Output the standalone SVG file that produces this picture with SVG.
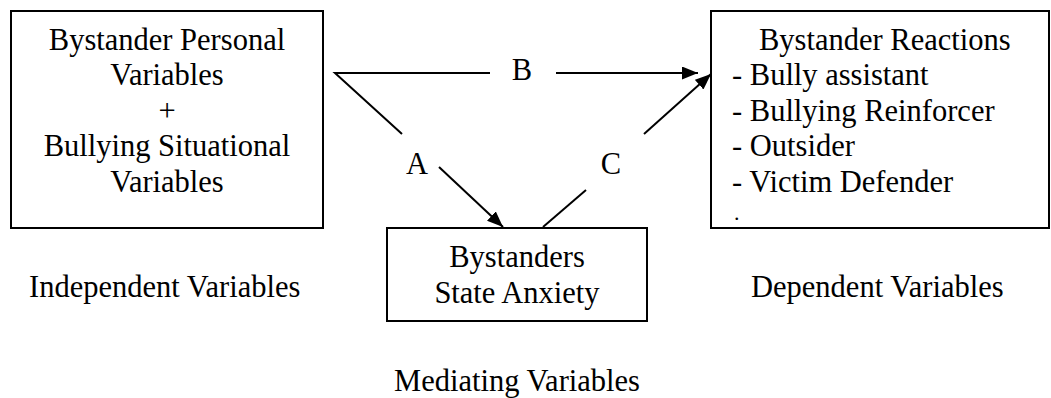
<svg xmlns="http://www.w3.org/2000/svg" width="1051" height="398" viewBox="0 0 1051 398">
<style>
text{font-family:"Liberation Serif","Times New Roman",serif;font-size:30.5px;fill:#000}
.c{text-anchor:middle}
.dot{font-size:22px}
.box{fill:#fff;stroke:#000;stroke-width:2}
.ln{stroke:#000;stroke-width:2;fill:none}
</style>
<defs>
<marker id="ah" markerUnits="userSpaceOnUse" markerWidth="17" markerHeight="13" refX="16" refY="6.5" orient="auto">
<path d="M0,0 L16,6.5 L0,13 z" fill="#000"/>
</marker>
</defs>
<rect width="1051" height="398" fill="#fff"/>
<g id="independent">
<rect class="box" x="11" y="11" width="312" height="217"/>
<text class="c" x="167" y="49.5">Bystander Personal</text>
<text class="c" x="167" y="85">Variables</text>
<text class="c" x="167" y="120.5">+</text>
<text class="c" x="167" y="156">Bullying Situational</text>
<text class="c" x="167" y="191.5">Variables</text>
<text x="29" y="297">Independent Variables</text>
</g>
<g id="dependent">
<rect class="box" x="711" y="11" width="338" height="217"/>
<text x="759" y="49.5">Bystander Reactions</text>
<text x="732" y="85">- Bully assistant</text>
<text x="732" y="120.5">- Bullying Reinforcer</text>
<text x="732" y="156">- Outsider</text>
<text x="732" y="191.5">- Victim Defender</text>
<text class="dot" x="734" y="220">.</text>
<text x="751" y="297">Dependent Variables</text>
</g>
<g id="mediating">
<rect class="box" x="387" y="228" width="260" height="93"/>
<text class="c" x="517" y="267">Bystanders</text>
<text class="c" x="517" y="303">State Anxiety</text>
<text class="c" x="517" y="391">Mediating Variables</text>
</g>
<g id="connectors">
<polyline class="ln" points="490,73 335,73 402,134"/>
<line class="ln" x1="556" y1="73" x2="698" y2="73" marker-end="url(#ah)"/>
<line class="ln" x1="439" y1="167" x2="503" y2="227" marker-end="url(#ah)"/>
<line class="ln" x1="543" y1="227" x2="586" y2="190"/>
<line class="ln" x1="644" y1="134" x2="711" y2="74" marker-end="url(#ah)"/>
<text class="c" x="522" y="80">B</text>
<text class="c" x="417" y="174">A</text>
<text class="c" x="611" y="174">C</text>
</g>
</svg>
